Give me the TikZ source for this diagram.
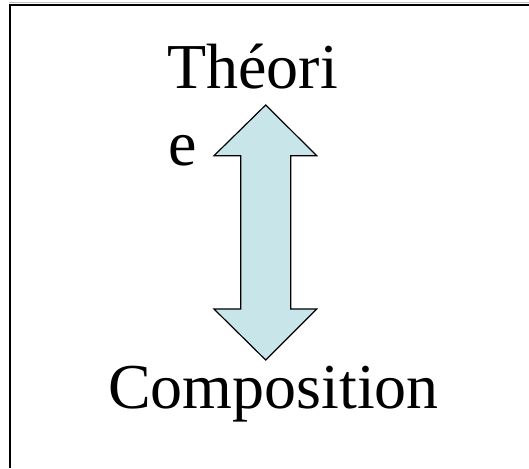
\documentclass[tikz,border=0pt]{standalone}
\usepackage{fontspec}
\newfontfamily\timesfont{Liberation Serif}
\definecolor{arrowfill}{RGB}{200,230,234}
\begin{document}
\begin{tikzpicture}[x=1pt,y=1pt,
  label/.style={inner sep=0pt, anchor=base west, font=\timesfont\fontsize{64}{70}\selectfont},
  blockarrow/.style={draw=black, line width=1.2pt, fill=arrowfill, line join=miter}]
\useasboundingbox (0,0) rectangle (529,468);
\draw[gray!50, line width=1pt] (9,465) -- (529,465);
\draw[black, line width=2.5pt] (10,0) -- (10,463) -- (529,463);
\node[label] (theo) at (167,379) {Théori};
\node[label] (e) at (168,302) {e};
\node[label] (comp) at (108,60) {Composition};
\draw[blockarrow] (265.7,363) -- (316.7,312.3) -- (290.7,312.3) -- (290.7,159)
  -- (316.7,159) -- (265.7,108) -- (214,159) -- (240.7,159) -- (240.7,312.3)
  -- (214,312.3) -- cycle;
\end{tikzpicture}
\end{document}
